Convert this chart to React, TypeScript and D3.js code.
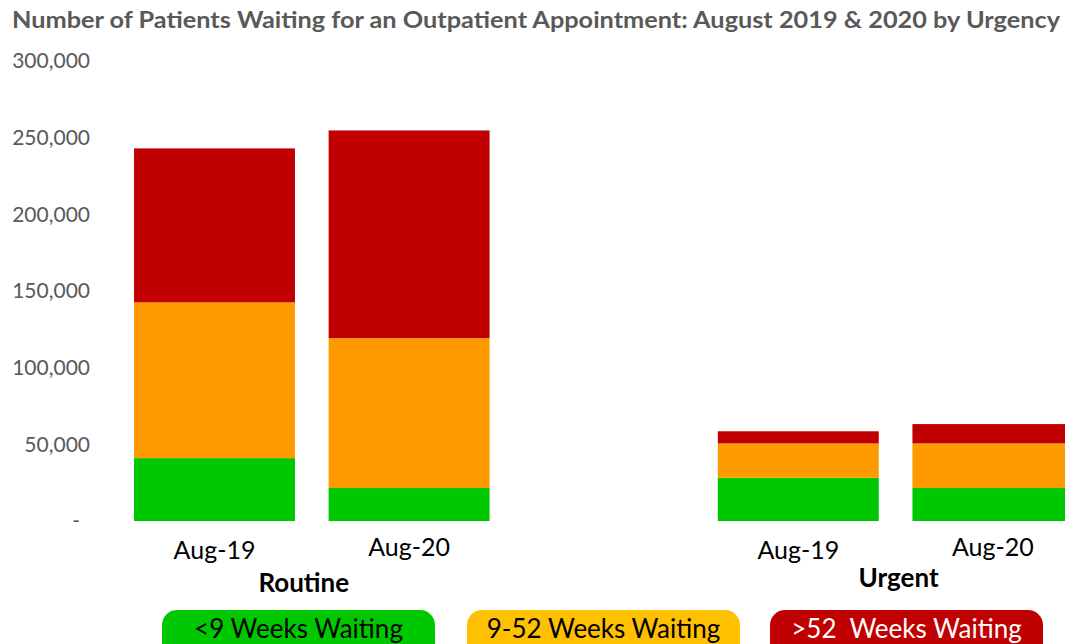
import { useEffect, useRef } from 'react';
import * as d3 from 'd3';

const WIDTH = 1065;
const HEIGHT = 644;

const title = 'Number of Patients Waiting for an Outpatient Appointment: August 2019 & 2020 by Urgency';
const groups = ['Routine', 'Urgent'];
const periods = ['Aug-19', 'Aug-20'];
// one value per bar: Routine Aug-19, Routine Aug-20, Urgent Aug-19, Urgent Aug-20
const under9Weeks = [41000, 21500, 28200, 21500];
const weeks9to52 = [101600, 97800, 22400, 29100];
const over52Weeks = [100400, 135400, 7900, 12600];
const seriesNames = ['<9 Weeks Waiting', '9-52 Weeks Waiting', '>52  Weeks Waiting'];
const yTicks = [0, 50000, 100000, 150000, 200000, 250000, 300000];

const FONT = 'Lato, "Open Sans", sans-serif';

const App = () => {
  const svgRef = useRef<SVGSVGElement | null>(null);

  useEffect(() => {
    const svg = d3.select(svgRef.current);
    svg.selectAll('*').remove();

    // bars + an empty slot between the two groups (like the blank category in Excel)
    const bars = groups.flatMap(g => periods.map(p => ({ group: g, period: p, key: `${g}|${p}` })));
    const rows = bars.map((b, i) => ({
      key: b.key,
      under9: under9Weeks[i],
      mid: weeks9to52[i],
      over52: over52Weeks[i],
    }));
    const slots = [bars[0].key, bars[1].key, 'gap', bars[2].key, bars[3].key];

    const x = d3.scaleBand()
      .domain(slots)
      .range([117.2, 117.2 + 194.6 * slots.length])
      .paddingInner(0.173)
      .paddingOuter(0.0865);

    const y = d3.scaleLinear()
      .domain([0, 300000])
      .range([521, 61]);

    const color = d3.scaleOrdinal<string, string>()
      .domain(['under9', 'mid', 'over52'])
      .range(['#00C800', '#FF9900', '#C00000']);

    const stacked = d3.stack<any>()
      .keys(['under9', 'mid', 'over52'])(rows);

    // title
    svg.append('text')
      .attr('x', 12)
      .attr('y', 28)
      .attr('textLength', 1048)
      .attr('lengthAdjust', 'spacingAndGlyphs')
      .style('font-family', FONT)
      .style('font-weight', 700)
      .style('font-size', '22px')
      .style('fill', '#595959')
      .text(title);

    // y axis labels
    svg.append('g')
      .selectAll('text')
      .data(yTicks)
      .enter()
      .append('text')
      .attr('x', d => (d === 0 ? 80 : 90))
      .attr('y', d => y(d))
      .attr('dy', '0.35em')
      .attr('text-anchor', 'end')
      .style('font-family', FONT)
      .style('font-size', '21px')
      .style('fill', '#595959')
      .text(d => (d === 0 ? '-' : d3.format(',')(d)));

    // stacked bars
    svg.append('g')
      .selectAll('g')
      .data(stacked)
      .enter()
      .append('g')
      .style('fill', d => color(d.key))
      .selectAll('rect')
      .data(d => d)
      .enter()
      .append('rect')
      .attr('x', d => x(d.data.key) as number)
      .attr('width', x.bandwidth())
      .attr('y', d => y(d[1]))
      .attr('height', d => y(d[0]) - y(d[1]));

    // category labels
    svg.append('g')
      .selectAll('text')
      .data(bars)
      .enter()
      .append('text')
      .attr('x', d => (x(d.key) as number) + x.bandwidth() / 2)
      .attr('y', d => (d.period === 'Aug-20' ? 556 : 559))
      .attr('text-anchor', 'middle')
      .style('font-family', FONT)
      .style('font-size', '25px')
      .style('fill', '#000')
      .text(d => d.period);

    // group labels
    svg.append('g')
      .selectAll('text')
      .data(groups)
      .enter()
      .append('text')
      .attr('x', g => {
        const keys = bars.filter(b => b.group === g).map(b => b.key);
        const x0 = x(keys[0]) as number;
        const x1 = (x(keys[keys.length - 1]) as number) + x.bandwidth();
        return (x0 + x1) / 2 + (g === 'Routine' ? -8 : 3);
      })
      .attr('y', g => (g === 'Routine' ? 592 : 587))
      .attr('text-anchor', 'middle')
      .style('font-family', FONT)
      .style('font-weight', 700)
      .style('font-size', '26px')
      .style('fill', '#000')
      .text(g => g);

    // legend
    const legendFill = ['#00C800', '#FFC000', '#C00000'];
    const legendText = ['#000', '#000', '#fff'];
    const legendX = [162, 467, 770];
    const legend = svg.append('g')
      .selectAll('g')
      .data(seriesNames)
      .enter()
      .append('g')
      .attr('transform', (d, i) => `translate(${legendX[i]},610)`);
    legend.append('rect')
      .attr('width', 273)
      .attr('height', 60)
      .attr('rx', 15)
      .style('fill', (d, i) => legendFill[i]);
    legend.append('text')
      .attr('x', 136.5)
      .attr('y', 28)
      .attr('text-anchor', 'middle')
      .style('font-family', FONT)
      .style('font-size', '26px')
      .style('white-space', 'pre')
      .attr('xml:space', 'preserve')
      .style('fill', (d, i) => legendText[i])
      .text(d => d);
  }, []);

  return (
    <svg
      ref={svgRef}
      width={WIDTH}
      height={HEIGHT}
      style={{ position: 'absolute', left: 0, top: 0, background: '#fff' }}
    />
  );
};

export default App;
